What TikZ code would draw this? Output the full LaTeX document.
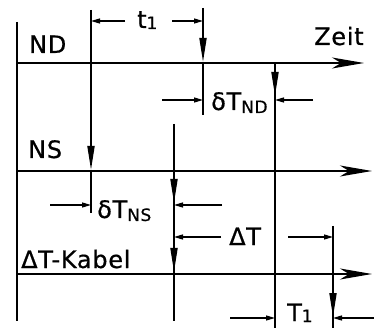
\documentclass[tikz,border=0pt]{standalone}
\usepackage{fontspec}
\newfontfamily\lab[LetterSpace=3,FakeBold=0.6]{DejaVu Sans}
\usetikzlibrary{arrows.meta}
\newcommand{\sbs}[2][-3pt]{\raisebox{#1}{\fontsize{17}{17}\selectfont #2}}
\begin{document}
\begin{tikzpicture}[x=1pt,y=-1pt,
  main/.style={line width=1.8pt},
  axisarrow/.style={main,-{Stealth[length=32pt,width=11pt,inset=9pt]}},
  vtip/.style={main,-{Triangle[length=24pt,width=7pt]}},
  dim/.style={line width=1.3pt,-{Triangle[length=9pt,width=5pt]}},
  lbl/.style={anchor=base west,inner sep=0pt,font=\lab\fontsize{24}{24}\selectfont}]
\useasboundingbox (0,0) rectangle (374,328);
% frame / axes
\coordinate (Ltop) at (17,22);
\coordinate (Lbot) at (17,321);
\coordinate (NDs) at (17,63);  \coordinate (NDe) at (364,63);
\coordinate (NSs) at (17,171); \coordinate (NSe) at (372,171);
\coordinate (KBs) at (17,274); \coordinate (KBe) at (372,274);
\draw[main] (Ltop) -- (Lbot);
\draw[axisarrow] (NDs) -- (NDe);
\draw[axisarrow] (NSs) -- (NSe);
\draw[axisarrow] (KBs) -- (KBe);
% vertical lines
\coordinate (A1) at (91,10);  \coordinate (A2) at (91,170); \coordinate (A3) at (91,213);
\draw[vtip] (A1) -- (A2);
\draw[main] (A2) -- (A3);
\coordinate (B1) at (203,8);  \coordinate (B2) at (203,62); \coordinate (B3) at (203,115);
\draw[vtip] (B1) -- (B2);
\draw[main] (B2) -- (B3);
\coordinate (C1) at (174,124); \coordinate (C2) at (174,321);
\coordinate (C3) at (174,176); \coordinate (C4) at (174,203);
\coordinate (C5) at (174,244); \coordinate (C6) at (174,272);
\draw[main] (C1) -- (C2);
\draw[vtip] (C3) -- (C4);
\draw[vtip] (C5) -- (C6);
\coordinate (D1) at (275,63); \coordinate (D2) at (275,328);
\coordinate (D3) at (275,68); \coordinate (D4) at (275,96);
\draw[main] (D1) -- (D2);
\draw[vtip] (D3) -- (D4);
\coordinate (E1) at (333,226); \coordinate (E2) at (333,328);
\coordinate (E3) at (333,288); \coordinate (E4) at (333,317);
\draw[main] (E1) -- (E2);
\draw[vtip] (E3) -- (E4);
% dimension arrows
\coordinate (t1a) at (125,21); \coordinate (t1b) at (91,21);
\coordinate (t1c) at (172,21); \coordinate (t1d) at (203,21);
\draw[dim] (t1a) -- (t1b);
\draw[dim] (t1c) -- (t1d);
\coordinate (nda) at (162,100); \coordinate (ndb) at (203,100);
\coordinate (ndc) at (313,100); \coordinate (ndd) at (275,100);
\draw[dim] (nda) -- (ndb);
\draw[dim] (ndc) -- (ndd);
\coordinate (nsa) at (50,205); \coordinate (nsb) at (91,205);
\coordinate (nsc) at (222,205); \coordinate (nsd) at (174,205);
\draw[dim] (nsa) -- (nsb);
\draw[dim] (nsc) -- (nsd);
\coordinate (dta) at (221,237); \coordinate (dtb) at (174,237);
\coordinate (dtc) at (288,237); \coordinate (dtd) at (333,237);
\draw[dim] (dta) -- (dtb);
\draw[dim] (dtc) -- (dtd);
\coordinate (Ta) at (230,318); \coordinate (Tb) at (275,318);
\coordinate (Tc) at (374,318); \coordinate (Td) at (333,318);
\draw[dim] (Ta) -- (Tb);
\draw[dim] (Tc) -- (Td);
% labels
\node[lbl] (lND) at (29,53) {ND};
\node[lbl] (lZeit) at (314,45) {Zeit};
\node[lbl] (lNS) at (28,158) {NS};
\node[lbl] (lKabel) at (21,268) {ΔT-Kabel};
\node[lbl] (lt1) at (137,28) {t\sbs[-1pt]{1}};
\node[lbl] (ldnd) at (211,110) {δT\sbs{ND}};
\node[lbl] (ldns) at (97,218) {δT\sbs{NS}};
\node[lbl] (ldT) at (229,245) {ΔT};
\node[lbl] (lT1) at (287,321) {T\sbs[-1pt]{1}};
\end{tikzpicture}
\end{document}
